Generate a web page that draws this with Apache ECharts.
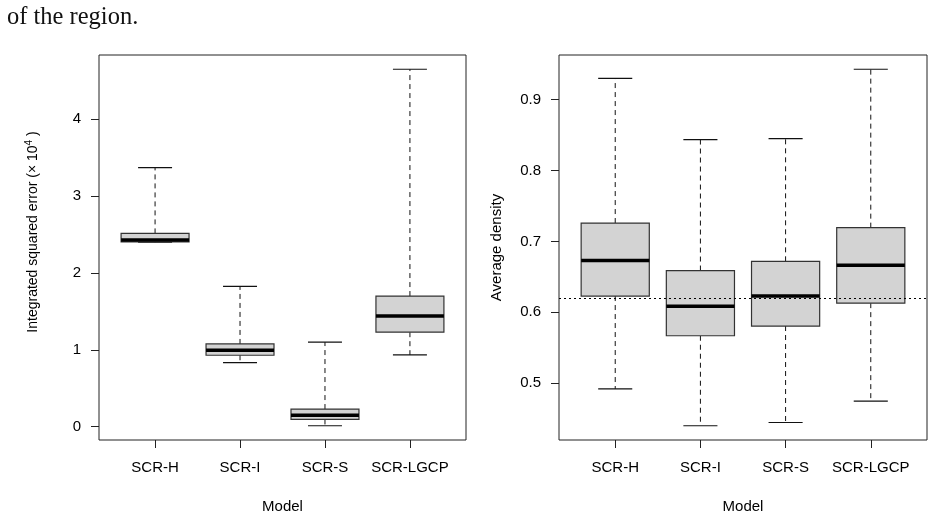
<!DOCTYPE html>
<html>
<head>
<meta charset="utf-8">
<script src="https://cdn.jsdelivr.net/npm/echarts@6/dist/echarts.min.js"></script>
<style>
  html, body { margin: 0; padding: 0; background: #fff; }
  #chart { width: 933px; height: 519px; }
</style>
</head>
<body>
<div id="chart"></div>
<script>
  // five-number summaries: [lower whisker, Q1, median, Q3, upper whisker]
  const categories = ['SCR-H', 'SCR-I', 'SCR-S', 'SCR-LGCP'];
  const iseStats = [
    [2.40, 2.405, 2.43, 2.515, 3.37],
    [0.835, 0.93, 0.995, 1.077, 1.825],
    [0.013, 0.095, 0.15, 0.23, 1.10],
    [0.934, 1.23, 1.44, 1.70, 4.65]
  ];
  const densityStats = [
    [0.492, 0.623, 0.673, 0.726, 0.930],
    [0.440, 0.567, 0.6085, 0.659, 0.8437],
    [0.4446, 0.5807, 0.623, 0.672, 0.845],
    [0.4746, 0.613, 0.6665, 0.7195, 0.943]
  ];
  const trueDensity = 0.621;
  const iseTicks = [0, 1, 2, 3, 4];
  const densityTicks = [0.5, 0.6, 0.7, 0.8, 0.9];
  const catTicks = [1, 2, 3, 4];

  const font = '"Liberation Sans", Arial, sans-serif';
  const ink = '#222';

  // R style limits: data range padded by 4% on each side
  function rLimits(stats) {
    let lo = Infinity, hi = -Infinity;
    stats.forEach(s => { lo = Math.min(lo, s[0]); hi = Math.max(hi, s[4]); });
    const pad = (hi - lo) * 0.04;
    return [lo - pad, hi + pad];
  }
  const iseLim = rLimits(iseStats);
  const denLim = rLimits(densityStats);

  function renderBox(params, api) {
    const x = api.value(0);
    const lo = api.coord([x, api.value(1)]);
    const q1 = api.coord([x, api.value(2)]);
    const md = api.coord([x, api.value(3)]);
    const q3 = api.coord([x, api.value(4)]);
    const hi = api.coord([x, api.value(5)]);
    const unit = api.size([1, 0])[0];
    const bw = unit * 0.8, cw = unit * 0.4;
    const cx = lo[0];
    const dash = { stroke: '#111', lineWidth: 1, lineDash: [5, 4] };
    const solid = { stroke: '#111', lineWidth: 1.2 };
    return {
      type: 'group',
      children: [
        { type: 'line', shape: { x1: cx, y1: q3[1], x2: cx, y2: hi[1] }, style: dash },
        { type: 'line', shape: { x1: cx, y1: q1[1], x2: cx, y2: lo[1] }, style: dash },
        { type: 'line', shape: { x1: cx - cw / 2, y1: hi[1], x2: cx + cw / 2, y2: hi[1] }, style: solid },
        { type: 'line', shape: { x1: cx - cw / 2, y1: lo[1], x2: cx + cw / 2, y2: lo[1] }, style: solid },
        { type: 'rect', shape: { x: cx - bw / 2, y: q3[1], width: bw, height: q1[1] - q3[1] },
          style: { fill: '#d3d3d3', stroke: '#333', lineWidth: 1.2 } },
        { type: 'line', shape: { x1: cx - bw / 2, y1: md[1], x2: cx + bw / 2, y2: md[1] },
          style: { stroke: '#000', lineWidth: 3.5 } }
      ]
    };
  }

  function xAxis(gridIndex) {
    return {
      type: 'value', gridIndex: gridIndex, min: 0.34, max: 4.66,
      name: 'Model', nameLocation: 'middle', nameGap: 59,
      nameTextStyle: { fontFamily: font, fontSize: 15, color: '#000' },
      axisLine: { show: false, onZero: false },
      splitLine: { show: false },
      axisTick: { show: true, length: 8, customValues: catTicks, lineStyle: { color: ink } },
      axisLabel: {
        customValues: catTicks, margin: 20, fontFamily: font, fontSize: 15, color: '#000',
        formatter: v => categories[Math.round(v) - 1]
      }
    };
  }

  function yAxis(gridIndex, lim, ticks, name, nameGap, nameStyle) {
    return {
      type: 'value', gridIndex: gridIndex, min: lim[0], max: lim[1],
      name: name, nameLocation: 'middle', nameGap: nameGap,
      nameTextStyle: Object.assign({ fontFamily: font, fontSize: 15, color: '#000' }, nameStyle),
      axisLine: { show: false, onZero: false },
      splitLine: { show: false },
      axisTick: { show: true, length: 8, customValues: ticks, lineStyle: { color: ink } },
      axisLabel: { customValues: ticks, margin: 18, fontFamily: font, fontSize: 15, color: '#000' }
    };
  }

  const chart = echarts.init(document.getElementById('chart'), null, { renderer: 'canvas' });
  chart.setOption({
    animation: false,
    backgroundColor: '#fff',
    graphic: [{
      type: 'text', left: 7, top: 5,
      style: { text: 'of the region.', font: '24.5px "Liberation Serif", serif', fill: '#111' }
    }],
    grid: [
      { left: 99, top: 55, width: 367, height: 386, show: true, borderColor: ink, borderWidth: 1 },
      { left: 559, top: 55, width: 368, height: 386, show: true, borderColor: ink, borderWidth: 1 }
    ],
    xAxis: [xAxis(0), xAxis(1)],
    yAxis: [
      yAxis(0, iseLim, iseTicks, '{t|Integrated squared error (× 10}{s|4}{t| )}', 57, {
        padding: [0, 0, 0, 31],
        rich: {
          t: { fontFamily: font, fontSize: 14, color: '#000' },
          s: { fontFamily: font, fontSize: 10, color: '#000', padding: [0, 0, 8, 0] }
        }
      }),
      yAxis(1, denLim, densityTicks, 'Average density', 55)
    ],
    series: [
      {
        type: 'custom', xAxisIndex: 0, yAxisIndex: 0,
        renderItem: renderBox,
        encode: { x: 0, y: [1, 2, 3, 4, 5] },
        data: iseStats.map((s, i) => [i + 1].concat(s))
      },
      {
        type: 'custom', xAxisIndex: 1, yAxisIndex: 1,
        renderItem: renderBox,
        encode: { x: 0, y: [1, 2, 3, 4, 5] },
        data: densityStats.map((s, i) => [i + 1].concat(s)),
        markLine: {
          silent: true, symbol: 'none', label: { show: false },
          lineStyle: { color: '#000', width: 1.2, type: [2, 3] },
          data: [{ yAxis: trueDensity }]
        }
      }
    ]
  });
</script>
</body>
</html>
